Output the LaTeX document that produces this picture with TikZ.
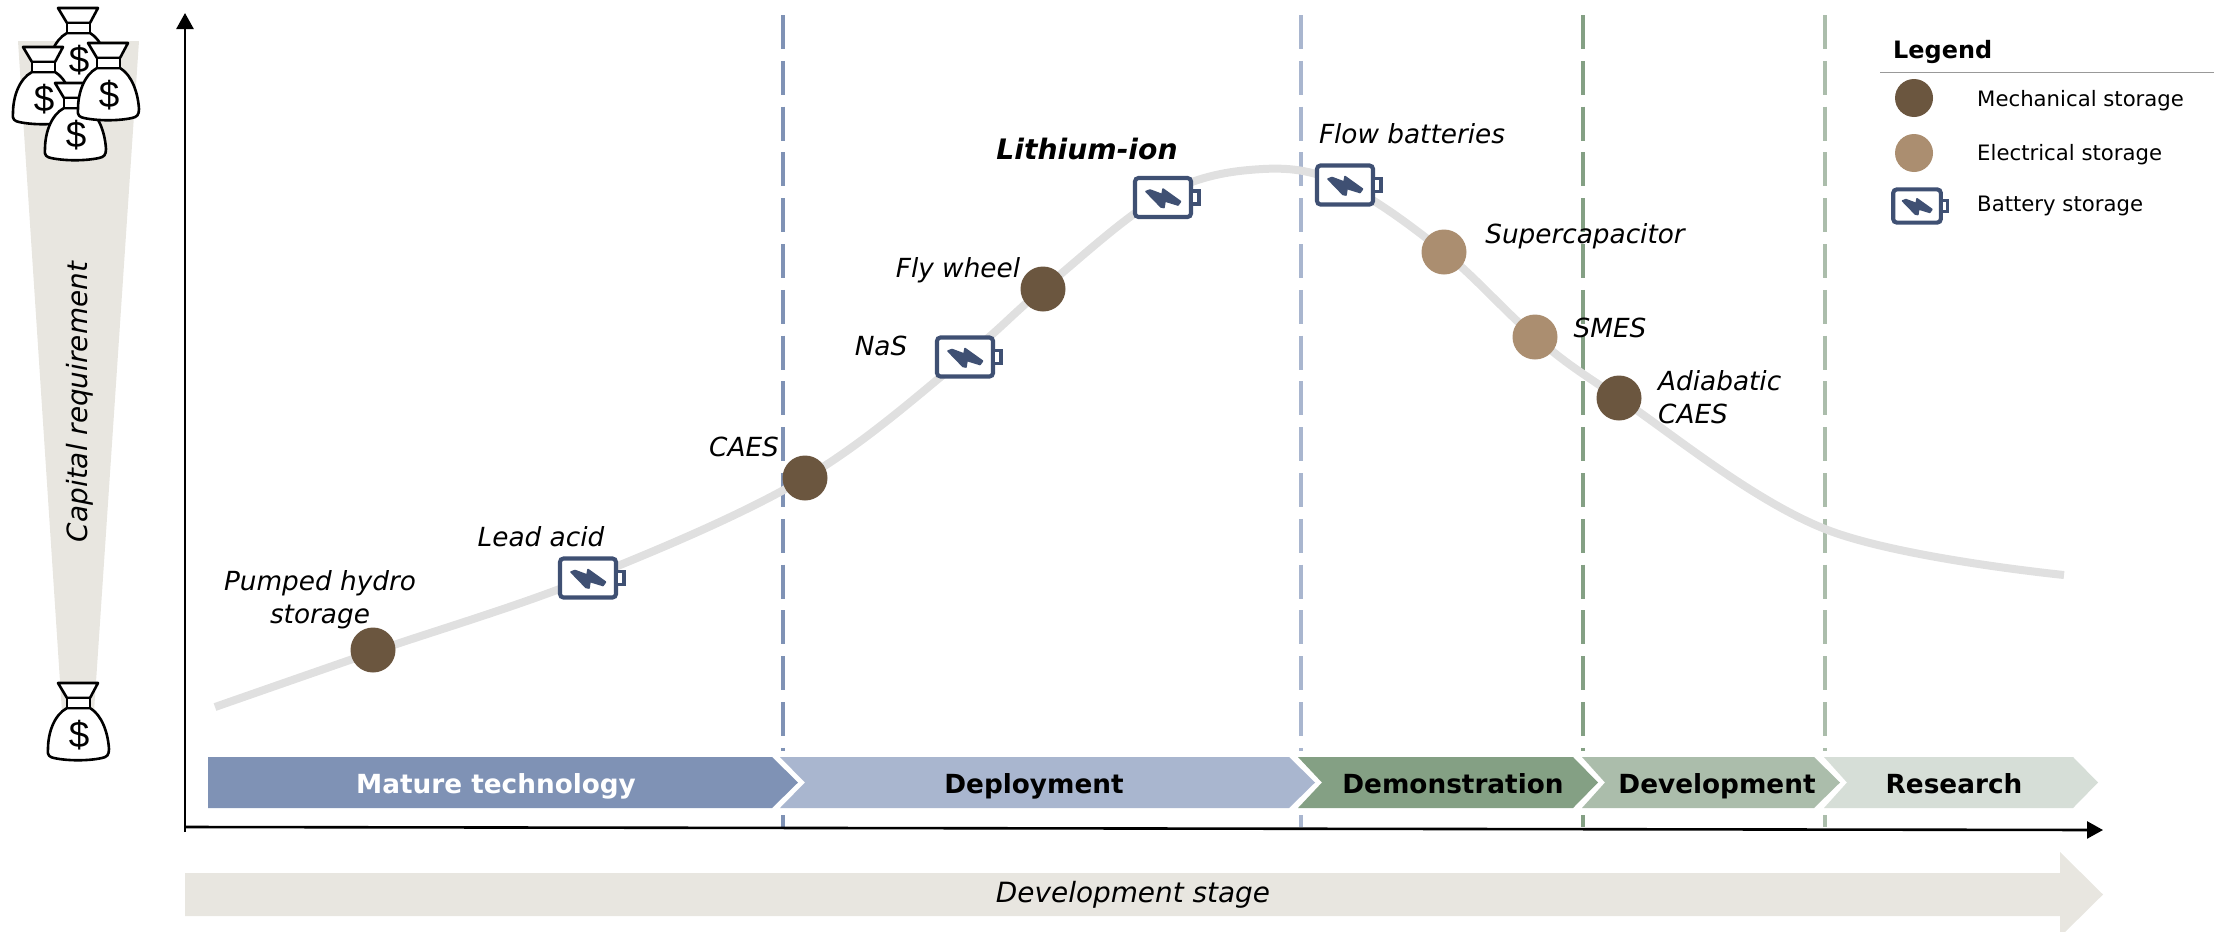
\documentclass[tikz,border=0pt]{standalone}
\usepackage{fontspec}
\setmainfont{DejaVu Sans}
\newfontfamily\dollarfont{Liberation Sans}
\usetikzlibrary{arrows.meta}
\definecolor{mech}{HTML}{6B563F}
\definecolor{elec}{HTML}{AB8E70}
\definecolor{batt}{HTML}{3F5073}
\definecolor{sand}{HTML}{E8E6E0}
\definecolor{curvegray}{HTML}{E0E0E0}
\definecolor{stA}{HTML}{7F92B5}
\definecolor{stB}{HTML}{A9B6CF}
\definecolor{stC}{HTML}{84A084}
\definecolor{stD}{HTML}{ABBDAB}
\definecolor{stE}{HTML}{D6DED7}
\tikzset{
  x=1bp,y=-1bp,
  mechdot/.style={circle,fill=mech,minimum size=45bp,inner sep=0pt},
  elecdot/.style={circle,fill=elec,minimum size=45bp,inner sep=0pt},
  tech/.style={font=\fontsize{26.4}{33}\selectfont\itshape,align=left,inner sep=0pt},
  legtext/.style={font=\fontsize{21.3}{25}\selectfont,anchor=base west,inner sep=0pt},
  stagetext/.style={font=\fontsize{26.4}{30}\selectfont\bfseries,inner sep=0pt,anchor=base},
  stageline/.style={line width=3.8bp,dash pattern=on 34bp off 11.8bp},
  axisline/.style={line width=2.6bp,-{Triangle[length=16bp,width=17bp]}},
  moneybag/.pic={
    \filldraw[fill=white,draw=black,line width=2.6bp,line join=round]
      (-11,25) .. controls (-24,32) and (-30,50) .. (-30,66)
      .. controls (-31,73) and (-28,74) .. (-24,75)
      .. controls (-10,78) and (10,78) .. (24,75)
      .. controls (29,74) and (31,72) .. (31,66)
      .. controls (30,50) and (24,32) .. (12,25) -- cycle;
    \filldraw[fill=white,draw=black,line width=2.6bp,line join=round]
      (-20,0) -- (20,0) -- (12,15) -- (-11,15) -- cycle;
    \filldraw[fill=white,draw=black,line width=2.6bp] (-11,15) rectangle (12,25);
    \node[inner sep=0pt,font=\fontsize{37}{37}\selectfont\dollarfont] at (1,52) {\$};
  },
  battery/.pic={
    \filldraw[fill=white,draw=batt,line width=4.1bp,rounded corners=3.5bp] (-28,-19.5) rectangle (28,19.5);
    \filldraw[fill=white,draw=batt,line width=3.4bp] (28.5,-6.5) rectangle (36,6.5);
    \filldraw[fill=batt,draw=batt,line width=1.6bp,line join=round]
      (-17,-6) -- (-13,-7.5) -- (-1,-3) -- (0,-8.5) -- (17.5,4) -- (15,7.5) -- (2,3.5) -- (1,10) -- (-2,9.5) -- cycle;
  }
}
\begin{document}
\begin{tikzpicture}
\useasboundingbox (0,0) rectangle (2231,931);
% capital wedge
\fill[sand] (18,41) -- (139,41) -- (94,712) -- (62,712) -- cycle;
\node[font=\fontsize{28}{32}\selectfont\itshape,rotate=90,inner sep=0pt] (cap) at (80,402) {Capital requirement};
% development arrow
\fill[sand] (185,873) -- (2060,873) -- (2060,852) -- (2103,894.5) -- (2060,937) -- (2060,916) -- (185,916) -- cycle;
\node[font=\fontsize{28}{32}\selectfont\itshape,inner sep=0pt] (devstage) at (1133,895) {Development stage};
% stage lines
\coordinate (la) at (783,15); \coordinate (lb) at (1301,15);
\coordinate (lc) at (1583,15); \coordinate (ld) at (1825,15);
\coordinate (lae) at (783,827); \coordinate (lbe) at (1301,827);
\coordinate (lce) at (1583,827); \coordinate (lde) at (1825,827);
\draw[stageline,draw=stA] (la) -- (lae);
\draw[stageline,draw=stB] (lb) -- (lbe);
\draw[stageline,draw=stC] (lc) -- (lce);
\draw[stageline,draw=stD] (ld) -- (lde);
% chevrons
\fill[white] (200,751) rectangle (2110,815);
\fill[stA] (208,757) -- (772,757) -- (798,782.5) -- (772,808) -- (208,808) -- cycle;
\fill[stB] (780,757) -- (1289,757) -- (1315,782.5) -- (1289,808) -- (780,808) -- (805,782.5) -- cycle;
\fill[stC] (1298,757) -- (1573,757) -- (1598,782.5) -- (1573,808) -- (1298,808) -- (1322,782.5) -- cycle;
\fill[stD] (1582,757) -- (1814,757) -- (1840,782.5) -- (1814,808) -- (1582,808) -- (1605,782.5) -- cycle;
\fill[stE] (1824,757) -- (2073,757) -- (2098,782.5) -- (2073,808) -- (1824,808) -- (1847,782.5) -- cycle;
\node[stagetext,text=white] (s1) at (496,793) {Mature technology};
\node[stagetext] (s2) at (1034,793) {Deployment};
\node[stagetext] (s3) at (1453,793) {Demonstration};
\node[stagetext] (s4) at (1717,793) {Development};
\node[stagetext] (s5) at (1954,793) {Research};
% axes
\coordinate (o) at (185,832); \coordinate (ytop) at (185,13);
\coordinate (xo) at (185,827); \coordinate (xend) at (2103,830);
\draw[axisline] (o) -- (ytop);
\draw[axisline] (xo) -- (xend);
% curve
\draw[curvegray,line width=8bp,line join=round] plot[smooth,tension=0.6] coordinates {
 (215,707) (373,652) (588,578) (805,478) (965,357) (1043,289) (1163,195)
 (1263,169) (1345,185) (1444,252) (1535,337) (1619,398) (1825,529) (2064,575)};
% technologies
\node[mechdot] (n1) at (373,650) {};
\path (588,578) pic {battery};
\node[mechdot] (n2) at (805,478) {};
\path (965,357) pic {battery};
\node[mechdot] (n3) at (1043,289) {};
\path (1163,197.5) pic {battery};
\path (1345,185) pic {battery};
\node[elecdot] (n4) at (1444,252) {};
\node[elecdot] (n5) at (1535,337) {};
\node[mechdot] (n6) at (1619,398) {};
% labels
\node[tech,align=center] (t1) at (320,600) {Pumped hydro\\storage};
\node[tech] (t2) at (541,537) {Lead acid};
\node[tech] (t3) at (744,447) {CAES};
\node[tech] (t4) at (881,346) {NaS};
\node[tech] (t5) at (958,270) {Fly wheel};
\node[tech,font=\fontsize{28.3}{33}\selectfont\itshape\bfseries] (t6) at (1087,149) {Lithium-ion};
\node[tech] (t7) at (1412,134) {Flow batteries};
\node[tech] (t8) at (1585,236) {Supercapacitor};
\node[tech] (t9) at (1610,328) {SMES};
\node[tech] (t10) [anchor=west] at (1658,397) {Adiabatic\\CAES};
% bags
\path (78,683) pic {moneybag};
\path (78,8) pic {moneybag};
\path (43,47) pic {moneybag};
\path (75,83) pic {moneybag};
\path (108,43) pic {moneybag};
% legend
\node[font=\fontsize{24}{28}\selectfont\bfseries,anchor=base west,inner sep=0pt] (lg) at (1893,58) {Legend};
\coordinate (lgl) at (1880,72.5); \coordinate (lgr) at (2214,72.5);
\draw[gray!80,line width=1.3bp] (lgl) -- (lgr);
\node[mechdot,minimum size=38bp] (lm) at (1914,98) {};
\node[elecdot,minimum size=38bp] (le) at (1914,153) {};
\path (1917,206) pic[scale=0.85] {battery};
\node[legtext] (tm) at (1977,106.5) {Mechanical storage};
\node[legtext] (te) at (1977,160) {Electrical storage};
\node[legtext] (tb) at (1977,211.5) {Battery storage};
\end{tikzpicture}
\end{document}
